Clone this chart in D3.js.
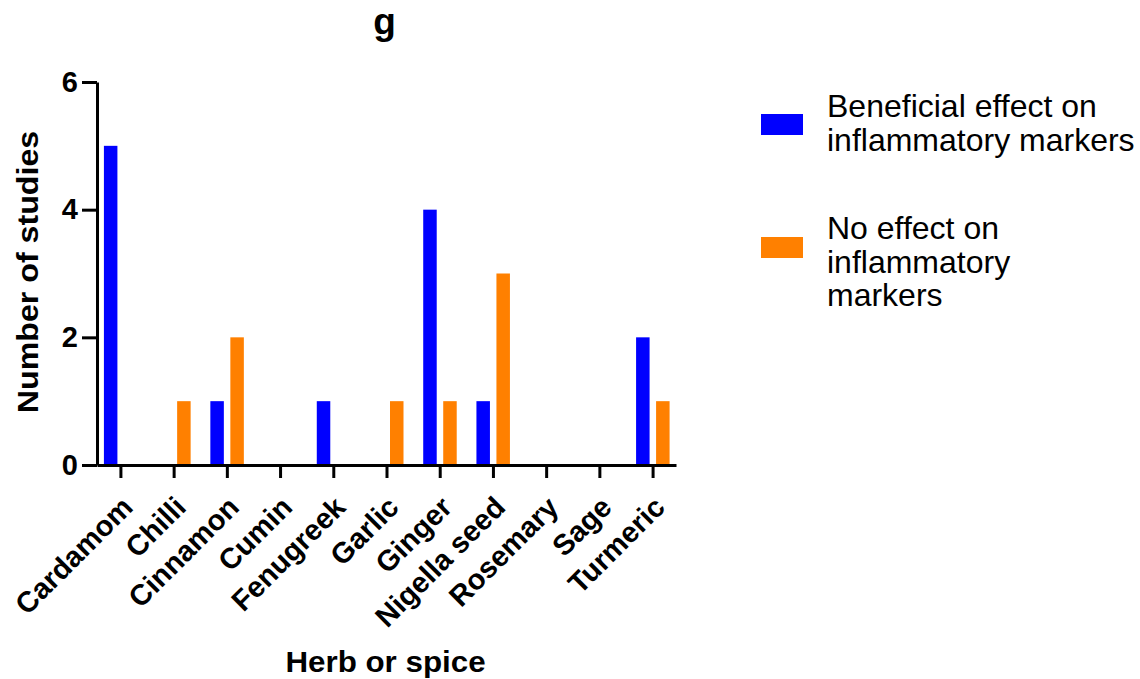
<!DOCTYPE html>
<html>
<head>
<meta charset="utf-8">
<script src="https://cdn.jsdelivr.net/npm/d3@7"></script>
<style>
  body { margin: 0; background: #ffffff; }
  svg { display: block; }
</style>
</head>
<body>
<svg id="chart" width="1140" height="679"></svg>
<script>
// Herbs and spices reviewed, and the number of studies per outcome
const categories = ["Cardamom", "Chilli", "Cinnamon", "Cumin", "Fenugreek", "Garlic",
                    "Ginger", "Nigella seed", "Rosemary", "Sage", "Turmeric"];
const beneficial = [5, 0, 1, 0, 1, 0, 4, 1, 0, 0, 2];
const noEffect   = [0, 1, 2, 0, 0, 1, 1, 3, 0, 0, 1];
const seriesKeys = ["beneficial", "noEffect"];
const seriesColors = ["#0000ff", "#ff8000"];
const legendLines = [
  ["Beneficial effect on", "inflammatory markers"],
  ["No effect on", "inflammatory", "markers"]
];
const yTicks = [0, 2, 4, 6];
const chartTitle = "g";
const xTitle = "Herb or spice";
const yTitle = "Number of studies";

const FONT = "'Liberation Sans', Arial, Helvetica, sans-serif";
const STRETCH = 1.08; // axis titles are drawn a little wide

const svg = d3.select("#chart");

const plot = { left: 97, right: 676, top: 82, bottom: 465 };

const x = d3.scalePoint().domain(categories).range([plot.left, plot.right]).padding(0.44);
const inner = d3.scaleBand().domain(seriesKeys).range([-16.5, 17]).paddingInner(0.325);
const y = d3.scaleLinear().domain([0, 6]).range([plot.bottom, plot.top]);

const seriesValues = { beneficial, noEffect };
const colorOf = d3.scaleOrdinal().domain(seriesKeys).range(seriesColors);

// bars
const rows = categories.flatMap((c, i) =>
  seriesKeys.map(k => ({ cat: c, key: k, value: seriesValues[k][i] })));

svg.append("g").selectAll("rect")
  .data(rows.filter(d => d.value > 0))
  .join("rect")
  .attr("x", d => x(d.cat) + inner(d.key))
  .attr("width", inner.bandwidth())
  .attr("y", d => y(d.value))
  .attr("height", d => y(0) - y(d.value))
  .attr("fill", d => colorOf(d.key));

// x axis
const gx = svg.append("g")
  .attr("transform", `translate(0,${plot.bottom})`)
  .call(d3.axisBottom(x).tickSize(13).tickSizeOuter(0).tickFormat(""));
gx.select(".domain").attr("stroke", "#000").attr("stroke-width", 3);
gx.selectAll(".tick line").attr("stroke", "#000").attr("stroke-width", 3);

// rotated category labels
svg.append("g").selectAll("text")
  .data(categories)
  .join("text")
  .attr("transform", d => `translate(${x(d) + 14},${plot.bottom + 44}) rotate(-45)`)
  .attr("text-anchor", "end")
  .attr("font-family", FONT)
  .attr("font-weight", "bold")
  .attr("font-size", 29)
  .attr("fill", "#000")
  .text(d => d);

// y axis
const gy = svg.append("g")
  .attr("transform", `translate(${plot.left},0)`)
  .call(d3.axisLeft(y).tickValues(yTicks).tickFormat(d3.format("d"))
    .tickSize(15).tickPadding(4).tickSizeOuter(0));
gy.select(".domain").attr("stroke", "#000").attr("stroke-width", 3);
gy.selectAll(".tick line").attr("stroke", "#000").attr("stroke-width", 3);
gy.selectAll(".tick text")
  .attr("font-family", FONT)
  .attr("font-weight", "bold")
  .attr("font-size", 29)
  .attr("fill", "#000");

// titles
svg.append("text")
  .attr("x", (plot.left + plot.right) / 2 - 2)
  .attr("y", 34)
  .attr("text-anchor", "middle")
  .attr("font-family", FONT)
  .attr("font-weight", "bold")
  .attr("font-size", 37)
  .text(chartTitle);

svg.append("text")
  .attr("transform", `translate(385.5,672) scale(${STRETCH},1)`)
  .attr("text-anchor", "middle")
  .attr("font-family", FONT)
  .attr("font-weight", "bold")
  .attr("font-size", 29)
  .text(xTitle);

svg.append("text")
  .attr("transform", `translate(38,272) rotate(-90) scale(${STRETCH + 0.03},1)`)
  .attr("text-anchor", "middle")
  .attr("font-family", FONT)
  .attr("font-weight", "bold")
  .attr("font-size", 29)
  .text(yTitle);

// legend
const legendX = 761, textX = 827, lineGap = 33.5;
const swatchTops = [114, 237];
const firstBaselines = [117, 239];

const lg = svg.append("g").selectAll("g")
  .data(seriesKeys)
  .join("g");

lg.append("rect")
  .attr("x", legendX)
  .attr("y", (d, i) => swatchTops[i])
  .attr("width", 42)
  .attr("height", 21)
  .attr("fill", d => colorOf(d));

lg.each(function (d, i) {
  const t = d3.select(this).append("text")
    .attr("font-family", FONT)
    .attr("font-size", 32)
    .attr("fill", "#000");
  t.selectAll("tspan")
    .data(legendLines[i])
    .join("tspan")
    .attr("x", textX)
    .attr("y", (s, j) => firstBaselines[i] + j * lineGap)
    .text(s => s);
});
</script>
</body>
</html>
